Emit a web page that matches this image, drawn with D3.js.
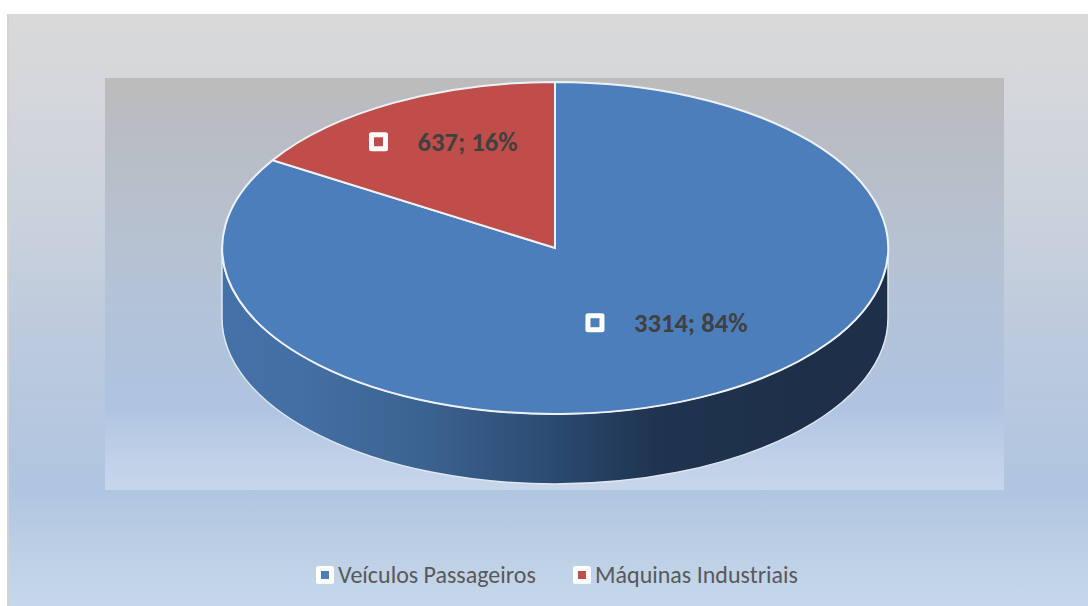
<!DOCTYPE html>
<html><head><meta charset="utf-8">
<script src="https://cdn.jsdelivr.net/npm/d3@7/dist/d3.min.js"></script>
<style>html,body{margin:0;padding:0;background:#fff}svg{display:block}</style>
</head><body><svg id="c" width="1088" height="606"></svg>
<script>
const categories = ["Veículos Passageiros", "Máquinas Industriais"];
const values = [3314, 637];
const percents = [84, 16];
const colors = ["#4c7ebb", "#bf4e4a"];
const W = 1088, H = 606;
const cx = 555, cy = 248, rx = 333, ry = 166, depth = 70;
const svg = d3.select("#c");
const defs = svg.append("defs");
function grad(id, stops, horiz){
  const g = defs.append("linearGradient").attr("id", id)
    .attr("x1", 0).attr("y1", 0).attr("x2", horiz ? 1 : 0).attr("y2", horiz ? 0 : 1);
  stops.forEach(s => g.append("stop").attr("offset", s[0]).attr("stop-color", s[1]));
}
grad("bg", [[0,"#d9d9d9"],[0.3,"#cdd3dc"],[0.55,"#bccadd"],[0.8,"#afc5e0"],[1,"#c7d8ea"]]);
grad("plot", [[0,"#bcbcbc"],[0.12,"#b9bcc2"],[0.4,"#b6c2d2"],[0.8,"#aec4e1"],[0.88,"#bacde6"],[1,"#c8d6ec"]]);
grad("wall", [[0,"#4471a8"],[0.12,"#446fa4"],[0.3,"#3b6391"],[0.5,"#2b4a70"],[0.65,"#1f3450"],[0.85,"#1e3049"],[1,"#1d2f49"]], true);

svg.append("rect").attr("x",7).attr("y",14).attr("width",W-7).attr("height",H-14).attr("fill","url(#bg)");
svg.append("rect").attr("x",7).attr("y",14).attr("width",2).attr("height",H-14).attr("fill","#d2d2d2");
svg.append("rect").attr("x",105).attr("y",78).attr("width",899).attr("height",412).attr("fill","url(#plot)");

const pieGen = d3.pie().value(d => d).sort(null);
const arcs = pieGen(values);
// unit-radius arc, flattened by the group transform
const arc = d3.arc().innerRadius(0).outerRadius(1);
const x = d3.scaleLinear().domain([-1,1]).range([cx-rx,cx+rx]);
const y = d3.scaleLinear().domain([-1,1]).range([cy-ry,cy+ry]);

// side wall
const wallPath = `M${x(-1)},${y(0)} A${rx},${ry} 0 0 0 ${x(1)},${y(0)} L${x(1)},${y(0)+depth} A${rx},${ry} 0 0 1 ${x(-1)},${y(0)+depth} Z`;
svg.append("path").attr("d", wallPath).attr("fill","url(#wall)").attr("stroke","#dfe7f0").attr("stroke-width",1.5);

const g = svg.append("g").attr("transform",`translate(${cx},${cy}) scale(${rx},${ry})`);
g.selectAll("path").data(arcs).join("path")
  .attr("d", arc)
  .attr("fill",(d,i)=>colors[i])
  .attr("stroke","#eef2f7").attr("stroke-width",2)
  .attr("vector-effect","non-scaling-stroke");

// data labels with legend key
const font = "Carlito, Lato, 'Open Sans', sans-serif";
const labelAt = [[0.12,0.45],[-0.53,-0.64]]; // fractions of the pie radii
function key(px,py,size,inner,col){
  svg.append("rect").attr("x",px-size/2).attr("y",py-size/2).attr("width",size).attr("height",size)
    .attr("rx",2.5).attr("fill","#fff");
  svg.append("rect").attr("x",px-inner/2).attr("y",py-inner/2).attr("width",inner).attr("height",inner)
    .attr("fill",col);
}
arcs.forEach((d,i)=>{
  const kx = x(labelAt[i][0]), ky = y(labelAt[i][1]);
  key(kx,ky,19,9,colors[i]);
  svg.append("text").attr("x",kx+39).attr("y",ky).attr("dy","0.36em")
    .attr("font-family",font).attr("font-size",26.6).attr("font-weight",700).attr("fill","#404040")
    .text(`${values[i]}; ${percents[i]}%`);
});

// legend
const legendX = [325, 582];
categories.forEach((c,i)=>{
  key(legendX[i],575,18,8,colors[i]);
  svg.append("text").attr("x",legendX[i]+13).attr("y",574).attr("dy","0.36em")
    .attr("font-family",font).attr("font-size",24).attr("fill","#595959").text(c);
});
</script></body></html>
